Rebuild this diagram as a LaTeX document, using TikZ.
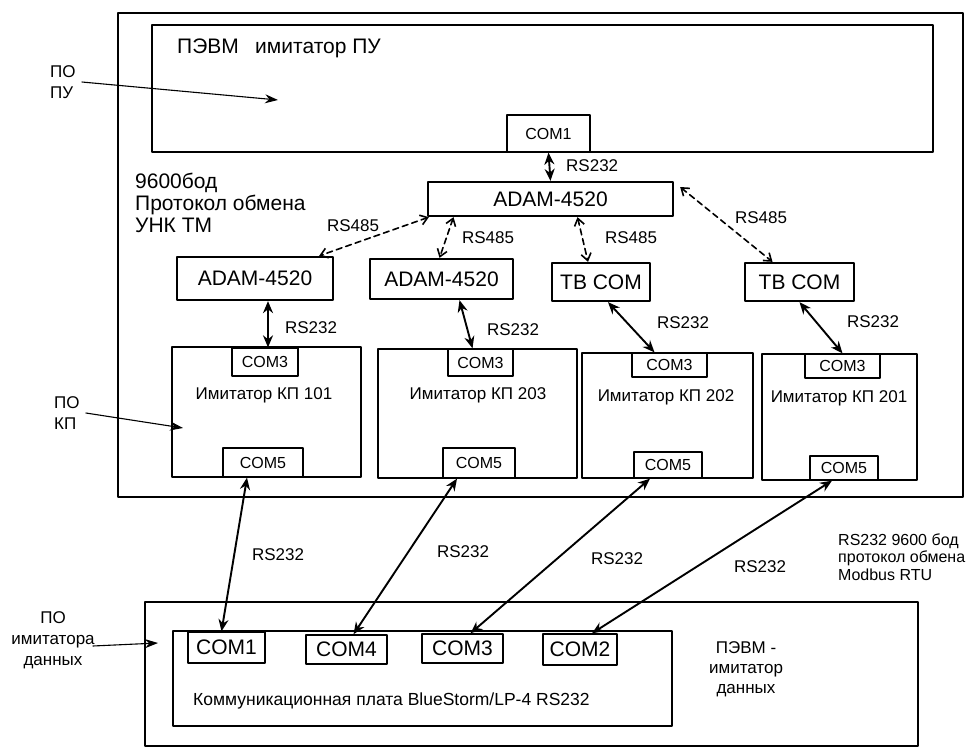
\documentclass[tikz,border=0pt]{standalone}
\usepackage{fontspec}
\setmainfont{Liberation Sans}
\usetikzlibrary{arrows.meta}

\begin{document}
\begin{tikzpicture}[x=1pt,y=-1pt,line cap=round,line join=round,
  frame/.style={draw,line width=1.5pt,inner sep=0pt},
  unit/.style={draw,line width=2.3pt,inner sep=0pt,font=\fontsize{21}{24}\selectfont},
  port/.style={draw,line width=1.3pt,inner sep=0pt,font=\fontsize{16}{19}\selectfont},
  bigport/.style={draw,line width=1.4pt,inner sep=0pt,font=\fontsize{21}{24}\selectfont},
  lbl/.style={inner sep=0pt,font=\fontsize{17}{20}\selectfont},
  note/.style={inner sep=0pt,font=\fontsize{17}{20}\selectfont,align=center},
  link/.style={{Stealth[length=12pt,width=10pt]}-{Stealth[length=12pt,width=10pt]},line width=1.9pt},
  buslink/.style={{Straight Barb[length=7pt,width=10pt]}-{Straight Barb[length=7pt,width=10pt]},line width=1.6pt,dash pattern=on 6pt off 4pt},
  hint/.style={-{Stealth[length=13pt,width=9pt]},line width=1.1pt}]
\useasboundingbox (0,0) rectangle (976,749);
% stand
\node[frame,minimum width=845pt,minimum height=484pt] (stand) at (540.5,255) {};
\node[frame,line width=2.3pt,minimum width=781pt,minimum height=127pt] (pu) at (542.5,88.5) {};
\node[anchor=west,inner sep=0pt,font=\fontsize{21}{24}\selectfont] (putitle) at (177,48) {ПЭВМ\enspace\ имитатор ПУ};
\node[port,minimum width=83pt,minimum height=37pt] (pucom) at (548.5,133.5) {COM1};
\node[unit,minimum width=245pt,minimum height=34pt] (adam0) at (550.5,199) {ADAM-4520};
\node[anchor=west,inner sep=0pt,font=\fontsize{21}{22}\selectfont,align=left] (proto) at (135,203) {9600бод\\Протокол обмена\\УНК ТМ};
% converters
\node[unit,minimum width=156pt,minimum height=43pt] (adam1) at (255,278.5) {ADAM-4520};
\node[unit,minimum width=143pt,minimum height=40pt] (adam2) at (441.5,279) {ADAM-4520};
\node[unit,minimum width=98pt,minimum height=38pt] (tb1) at (601,282) {TB COM};
\node[unit,minimum width=109pt,minimum height=38pt] (tb2) at (799.5,282) {TB COM};
% KP simulators
\node[frame,minimum width=189pt,minimum height=130pt] (kp1) at (266.5,412) {};
\node[frame,minimum width=199pt,minimum height=129pt] (kp2) at (477.5,413.5) {};
\node[frame,minimum width=171pt,minimum height=125pt] (kp3) at (667.5,415.5) {};
\node[frame,minimum width=155pt,minimum height=126pt] (kp4) at (839.5,417) {};
\node[port,minimum width=66pt,minimum height=28pt] (kp1c3) at (265,362) {COM3};
\node[port,minimum width=80pt,minimum height=29pt] (kp1c5) at (263,462.5) {COM5};
\node[port,minimum width=65pt,minimum height=27pt] (kp2c3) at (480.5,362.5) {COM3};
\node[port,minimum width=72pt,minimum height=30pt] (kp2c5) at (479,463) {COM5};
\node[port,minimum width=75pt,minimum height=24pt] (kp3c3) at (669.5,365) {COM3};
\node[port,minimum width=68pt,minimum height=26pt] (kp3c5) at (668,465) {COM5};
\node[port,minimum width=75pt,minimum height=24pt] (kp4c3) at (842.5,366) {COM3};
\node[port,minimum width=68pt,minimum height=24pt] (kp4c5) at (844,468) {COM5};
\node[lbl] (kp1name) at (264,395) {Имитатор КП 101};
\node[lbl] (kp2name) at (478,395) {Имитатор КП 203};
\node[lbl] (kp3name) at (666,397) {Имитатор КП 202};
\node[lbl] (kp4name) at (839,398) {Имитатор КП 201};
% data simulator
\node[frame,line width=2pt,minimum width=773pt,minimum height=144pt] (pc) at (531.5,674) {};
\node[frame,line width=2pt,minimum width=499pt,minimum height=95pt] (board) at (422.5,678.5) {};
\node[bigport,minimum width=77pt,minimum height=31pt] (b1) at (226.5,647.5) {COM1};
\node[bigport,minimum width=81pt,minimum height=29pt] (b4) at (346.5,649.5) {COM4};
\node[bigport,minimum width=81pt,minimum height=29pt] (b3) at (462.5,648.5) {COM3};
\node[bigport,minimum width=74pt,minimum height=31pt] (b2) at (580,649.5) {COM2};
\node[lbl,anchor=west,font=\fontsize{17.5}{20}\selectfont] (boardname) at (193,701) {Коммуникационная плата BlueStorm/LP-4 RS232};
\node[note] (pcname) at (746,669) {ПЭВМ -\\имитатор\\данных};
% side notes
\node[lbl,anchor=west,align=left,font=\fontsize{17}{21}\selectfont] (popu) at (50,82) {ПО\\ПУ};
\node[lbl,anchor=west,align=left,font=\fontsize{17}{21}\selectfont] (pokp) at (54,413) {ПО\\КП};
\node[note,font=\fontsize{17}{21}\selectfont] (podata) at (53,640) {ПО\\имитатора\\данных};
\node[lbl,anchor=west,align=left,font=\fontsize{16}{17.5}\selectfont] (modbus) at (838,557) {RS232 9600 бод\\протокол обмена\\Modbus RTU};
\coordinate (puin) at (278,100);
\coordinate (kpin) at (183,428);
\coordinate (datain) at (158,643);
\draw[hint] (popu.east) ++(6,0) -- (puin);
\draw[hint] ([xshift=6pt]pokp.east) -- (kpin);
\draw[hint] ([xshift=-2pt,yshift=-6pt]podata.east) -- (datain);
% links
\draw[link] (pucom.south) -- (adam0.north);
\node[lbl,anchor=west] (l0) at (566,166) {RS232};
\draw[buslink] ([xshift=2pt]adam0.south west) -- ([xshift=-15pt]adam1.north east);
\draw[buslink] ([xshift=-97pt]adam0.south) -- ([xshift=-2pt]adam2.north);
\draw[buslink] ([xshift=27pt]adam0.south) -- ([xshift=-13pt]tb1.north);
\draw[buslink] ([shift={(6pt,12pt)}]adam0.east) -- ([xshift=-27pt]tb2.north);
\node[lbl] (l1) at (353,226) {RS485};
\node[lbl] (l2) at (488,238) {RS485};
\node[lbl] (l3) at (631,238) {RS485};
\node[lbl] (l4) at (761,218) {RS485};
\draw[link] ([xshift=13pt]adam1.south) -- ([xshift=3pt]kp1c3.north);
\draw[link] ([xshift=18pt]adam2.south) -- ([xshift=-8pt]kp2c3.north);
\draw[link] ([xshift=7pt]tb1.south) -- ([xshift=-15pt]kp3c3.north);
\draw[link] (tb2.south) -- (kp4c3.north);
\node[lbl] (l5) at (311,328) {RS232};
\node[lbl] (l6) at (513,330) {RS232};
\node[lbl] (l7) at (683,323) {RS232};
\node[lbl] (l8) at (873,322) {RS232};
\draw[link] ([xshift=-16pt]kp1c5.south) -- ([xshift=-5pt]b1.north);
\draw[link] ([xshift=-22pt]kp2c5.south) -- ([xshift=7pt]b4.north);
\draw[link] ([xshift=-18pt]kp3c5.south) -- ([xshift=8pt]b3.north);
\draw[link] ([xshift=-12pt]kp4c5.south) -- ([xshift=12pt]b2.north);
\node[lbl] (l9) at (278,555) {RS232};
\node[lbl] (l10) at (463,552) {RS232};
\node[lbl] (l11) at (617,559) {RS232};
\node[lbl] (l12) at (760,567) {RS232};
\end{tikzpicture}
\end{document}
